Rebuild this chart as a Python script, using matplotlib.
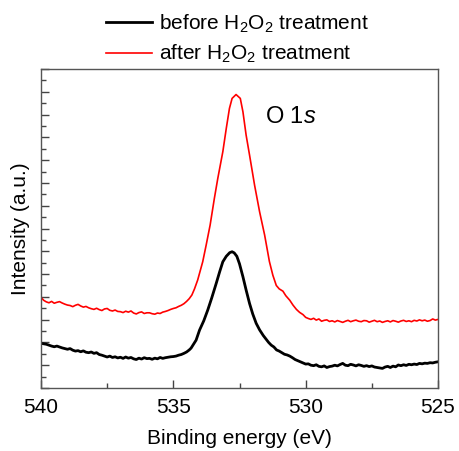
import matplotlib.pyplot as plt
from matplotlib.ticker import MultipleLocator, NullFormatter

plt.rcParams['font.family'] = ['Liberation Sans', 'DejaVu Sans']
plt.rcParams['mathtext.fontset'] = 'custom'
plt.rcParams['mathtext.rm'] = 'Liberation Sans'
plt.rcParams['mathtext.it'] = 'Liberation Sans:italic'

# energia di legame (eV) e intensità (u.a.)
be_before = [540.0, 539.9, 539.8, 539.7, 539.6, 539.5, 539.4, 539.3, 539.2, 539.1,
             539.0, 538.9, 538.8, 538.7, 538.6, 538.5, 538.4, 538.3, 538.2, 538.1,
             538.0, 537.9, 537.8, 537.7, 537.6, 537.5, 537.4, 537.3, 537.2, 537.1,
             537.0, 536.9, 536.8, 536.7, 536.6, 536.5, 536.4, 536.3, 536.2, 536.1,
             536.0, 535.9, 535.8, 535.7, 535.6, 535.5, 535.4, 535.3, 535.2, 535.1,
             535.0, 534.9, 534.8, 534.7, 534.6, 534.5, 534.4, 534.33, 534.25, 534.14,
             534.01, 533.85, 533.7, 533.55, 533.38, 533.25, 533.13, 533.0, 532.87, 532.78,
             532.7, 532.6, 532.5, 532.37, 532.25, 532.12, 532.0, 531.87, 531.74, 531.6,
             531.5, 531.4, 531.3, 531.2, 531.1, 531.0, 530.9, 530.8, 530.7, 530.6,
             530.5, 530.4, 530.3, 530.2, 530.1, 530.0, 529.9, 529.8, 529.7, 529.6,
             529.5, 529.4, 529.3, 529.2, 529.1, 529.0, 528.9, 528.8, 528.7, 528.6,
             528.5, 528.4, 528.3, 528.2, 528.1, 528.0, 527.9, 527.8, 527.7, 527.6,
             527.5, 527.4, 527.3, 527.2, 527.1, 527.0, 526.9, 526.8, 526.7, 526.6,
             526.5, 526.4, 526.3, 526.2, 526.1, 526.0, 525.9, 525.8, 525.7, 525.6,
             525.5, 525.4, 525.3, 525.2, 525.1, 525.0]
int_before = [1.96, 1.94, 1.92, 1.88, 1.84, 1.81, 1.84, 1.80, 1.76, 1.73,
              1.70, 1.73, 1.66, 1.62, 1.64, 1.59, 1.63, 1.57, 1.55, 1.58,
              1.52, 1.55, 1.47, 1.44, 1.40, 1.36, 1.40, 1.34, 1.37, 1.32,
              1.35, 1.30, 1.36, 1.31, 1.34, 1.28, 1.25, 1.31, 1.27, 1.33,
              1.29, 1.30, 1.26, 1.31, 1.28, 1.34, 1.30, 1.33, 1.35, 1.37,
              1.38, 1.40, 1.44, 1.47, 1.52, 1.58, 1.67, 1.75, 1.90, 2.10,
              2.54, 2.95, 3.42, 3.95, 4.59, 5.10, 5.54, 5.78, 5.94, 5.98,
              5.93, 5.78, 5.45, 4.88, 4.30, 3.71, 3.25, 2.84, 2.55, 2.30,
              2.15, 2.00, 1.88, 1.80, 1.67, 1.62, 1.55, 1.48, 1.45, 1.40,
              1.33, 1.25, 1.20, 1.15, 1.10, 1.05, 1.06, 1.00, 0.98, 1.02,
              0.95, 0.93, 0.97, 0.90, 0.94, 0.96, 1.00, 0.97, 1.03, 1.08,
              1.00, 0.98, 1.04, 1.01, 0.97, 1.02, 0.99, 0.95, 0.98, 0.94,
              0.97, 0.92, 0.90, 0.88, 0.86, 0.92, 0.95, 0.90, 0.96, 0.93,
              1.01, 0.98, 1.02, 0.99, 1.04, 1.02, 1.05, 1.03, 1.08, 1.06,
              1.09, 1.08, 1.11, 1.10, 1.13, 1.15]

be_after = [540.0, 539.9, 539.8, 539.7, 539.6, 539.5, 539.4, 539.3, 539.2, 539.1,
            539.0, 538.9, 538.8, 538.7, 538.6, 538.5, 538.4, 538.3, 538.2, 538.1,
            538.0, 537.9, 537.8, 537.7, 537.6, 537.5, 537.4, 537.3, 537.2, 537.1,
            537.0, 536.9, 536.8, 536.7, 536.6, 536.5, 536.4, 536.3, 536.2, 536.1,
            536.0, 535.9, 535.8, 535.7, 535.6, 535.5, 535.4, 535.3, 535.2, 535.1,
            535.0, 534.9, 534.8, 534.7, 534.6, 534.5, 534.4, 534.3, 534.2, 534.08,
            533.95, 533.89, 533.76, 533.61, 533.45, 533.32, 533.13, 533.0, 532.88, 532.78,
            532.63, 532.47, 532.37, 532.25, 532.12, 531.93, 531.74, 531.55, 531.37, 531.24,
            531.11, 531.0, 530.86, 530.75, 530.6, 530.48, 530.35, 530.23, 530.1, 530.0,
            529.9, 529.8, 529.7, 529.6, 529.5, 529.4, 529.3, 529.2, 529.1, 529.0,
            528.9, 528.8, 528.7, 528.6, 528.5, 528.4, 528.3, 528.2, 528.1, 528.0,
            527.9, 527.8, 527.7, 527.6, 527.5, 527.4, 527.3, 527.2, 527.1, 527.0,
            526.9, 526.8, 526.7, 526.6, 526.5, 526.4, 526.3, 526.2, 526.1, 526.0,
            525.9, 525.8, 525.7, 525.6, 525.5, 525.4, 525.3, 525.2, 525.1, 525.0]
int_after = [3.98, 3.85, 3.78, 3.74, 3.80, 3.72, 3.76, 3.79, 3.73, 3.68,
             3.64, 3.62, 3.57, 3.63, 3.67, 3.60, 3.55, 3.58, 3.52, 3.48,
             3.45, 3.50, 3.44, 3.40, 3.47, 3.49, 3.41, 3.38, 3.42, 3.36,
             3.35, 3.31, 3.37, 3.33, 3.38, 3.29, 3.25, 3.31, 3.34, 3.27,
             3.30, 3.30, 3.26, 3.24, 3.29, 3.27, 3.33, 3.36, 3.40, 3.45,
             3.49, 3.52, 3.58, 3.63, 3.70, 3.80, 3.92, 4.08, 4.35, 4.74,
             5.30, 5.54, 6.27, 7.15, 8.32, 9.20, 10.37, 11.39, 12.27, 12.71,
             12.88, 12.71, 12.12, 11.10, 10.22, 8.90, 7.73, 6.71, 5.55, 4.95,
             4.50, 4.35, 4.25, 4.05, 3.85, 3.64, 3.45, 3.32, 3.22, 3.10,
             3.05, 3.01, 3.06, 2.98, 3.03, 2.93, 2.97, 2.99, 2.92, 2.95,
             2.90, 2.96, 2.92, 2.88, 2.93, 2.97, 2.91, 2.95, 2.98, 2.93,
             2.91, 2.96, 2.95, 2.89, 2.93, 2.97, 2.91, 2.94, 2.88, 2.92,
             2.95, 2.90, 2.96, 2.93, 2.89, 2.94, 2.97, 2.92, 2.95, 2.91,
             2.97, 2.94, 2.99, 2.95, 2.98, 2.93, 2.96, 3.03, 2.98, 3.01]


def main():
    fig = plt.figure(figsize=(4.59, 4.51), dpi=100)
    ax = fig.add_axes([41 / 459, 1 - 388 / 451, 397 / 459, 319 / 451])

    l1, = ax.plot(be_before, int_before, color='black', lw=2.0)
    l2, = ax.plot(be_after, int_after, color='red', lw=1.2)

    ax.set_xlim(540, 525)
    ax.set_ylim(0, 14)
    ax.xaxis.set_major_locator(MultipleLocator(5))
    ax.xaxis.set_minor_locator(MultipleLocator(2.5))
    ax.yaxis.set_major_locator(MultipleLocator(1))
    ax.yaxis.set_minor_locator(MultipleLocator(0.5))
    ax.yaxis.set_major_formatter(NullFormatter())
    ax.tick_params(which='both', direction='in', top=False, right=False,
                   color='#444444', width=1)
    ax.tick_params(which='major', length=6, labelsize=15, pad=7)
    ax.tick_params(which='minor', length=3.5)
    for s in ax.spines.values():
        s.set_color('#555555')
        s.set_linewidth(1)

    ax.set_xlabel('Binding energy (eV)', fontsize=15, labelpad=9)
    ax.set_ylabel('Intensity (a.u.)', fontsize=15, labelpad=1)

    ax.text(531.55, 11.9, 'O 1$\\it{s}$', fontsize=17, va='center', ha='left')

    fig.legend([l1, l2], ['before H$_2$O$_2$ treatment', 'after H$_2$O$_2$ treatment'],
               loc='upper center', bbox_to_anchor=(0.517, 1.0), frameon=False,
               fontsize=15, handlelength=2.2, handletextpad=0.34, labelspacing=0.4,
               borderaxespad=0.2)

    fig.savefig('out.png', dpi=100)


if __name__ == '__main__':
    main()
